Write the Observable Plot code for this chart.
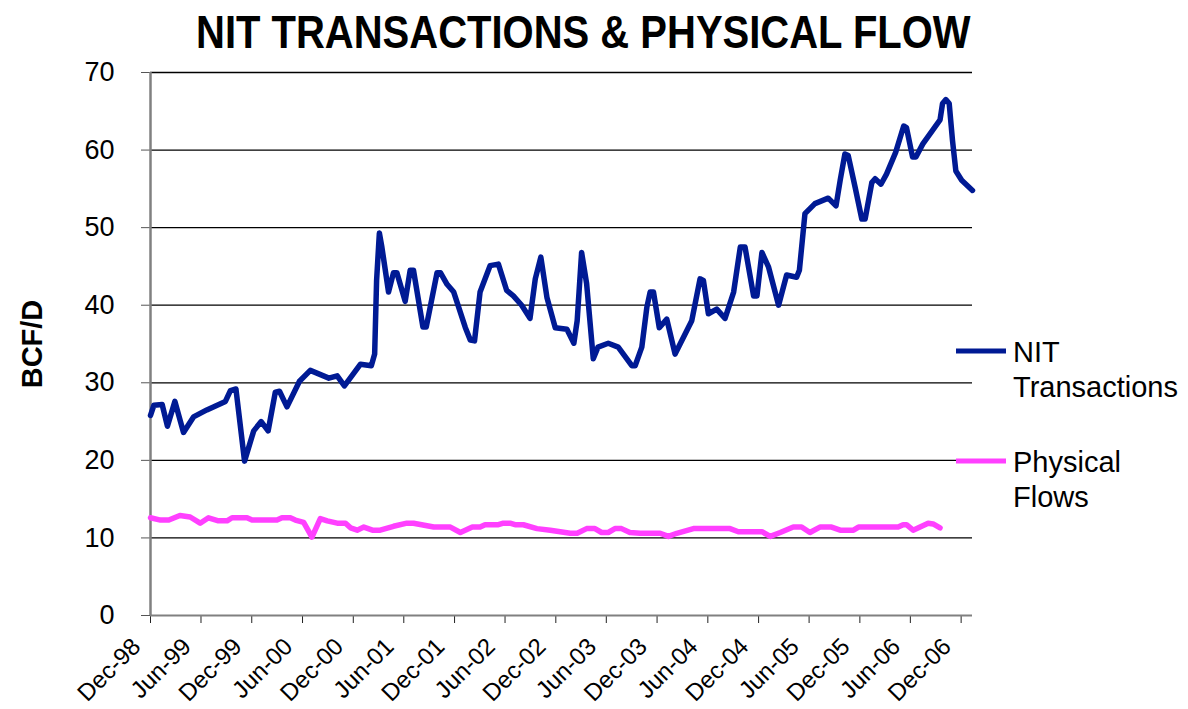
<!DOCTYPE html>
<html>
<head>
<meta charset="utf-8">
<script src="https://cdn.jsdelivr.net/npm/d3@7"></script>
<script src="https://cdn.jsdelivr.net/npm/@observablehq/plot@0.6"></script>
<style>
  html, body { margin: 0; padding: 0; background: #fff; }
  #wrap { position: relative; width: 1188px; height: 709px; overflow: hidden; font-family: "Liberation Sans", Arial, sans-serif; }
  #overlay { position: absolute; left: 0; top: 0; pointer-events: none; }
</style>
</head>
<body>
<div id="wrap">
  <div id="chart"></div>
  <svg id="overlay" width="1188" height="709" font-family="Liberation Sans, Arial, sans-serif">
    <text id="title" transform="translate(196,48) scale(1,1.15)" font-size="40" font-weight="bold" fill="#000">NIT TRANSACTIONS &amp; PHYSICAL FLOW</text>
    <g id="legend"></g>
  </svg>
</div>
<script>
// ---- Data ----
const nitDates = [
  "1998-12-01","1998-12-13","1999-01-12","1999-01-31","1999-02-27","1999-03-30","1999-05-05","1999-06-22",
  "1999-08-28","1999-09-15","1999-10-05","1999-11-05","1999-12-08","2000-01-04","2000-01-29","2000-02-24",
  "2000-03-10","2000-04-06","2000-05-21","2000-06-29","2000-09-04","2000-10-04","2000-10-30","2000-12-27",
  "2001-02-04","2001-02-16","2001-02-23","2001-03-02","2001-03-05","2001-03-14","2001-04-07","2001-04-25",
  "2001-05-07","2001-06-06","2001-06-24","2001-07-06","2001-08-09","2001-08-21","2001-09-29","2001-10-11",
  "2001-11-04","2001-11-28","2002-01-09","2002-01-27","2002-02-11","2002-03-03","2002-04-08","2002-05-08",
  "2002-06-07","2002-07-01","2002-07-31","2002-08-30","2002-09-18","2002-10-08","2002-10-30","2002-11-29",
  "2003-01-10","2003-02-04","2003-02-16","2003-03-04","2003-03-22","2003-04-15","2003-05-02","2003-06-08",
  "2003-07-14","2003-09-01","2003-09-13","2003-10-07","2003-10-25","2003-11-06","2003-11-18","2003-12-09",
  "2004-01-05","2004-02-04","2004-04-04","2004-05-04","2004-05-16","2004-06-03","2004-07-03","2004-08-02",
  "2004-09-02","2004-09-26","2004-10-13","2004-11-13","2004-11-25","2004-12-13","2005-01-06","2005-02-11",
  "2005-03-12","2005-04-17","2005-04-27","2005-05-17","2005-06-22","2005-08-09","2005-09-06","2005-09-21",
  "2005-10-08","2005-10-20","2005-11-14","2005-12-08","2005-12-20","2006-01-13","2006-01-25","2006-02-15",
  "2006-03-07","2006-04-09","2006-05-08","2006-05-18","2006-06-09","2006-06-21","2006-07-16","2006-09-16",
  "2006-09-25","2006-10-07","2006-10-19","2006-10-31","2006-11-12","2006-12-03","2007-01-11"
];
const nitValues = [
  25.8,27.1,27.2,24.4,27.6,23.6,25.6,26.5,
  27.6,29.0,29.2,19.9,23.8,25.0,23.8,28.8,
  28.9,26.9,30.2,31.6,30.6,30.9,29.6,32.4,
  32.2,33.7,43.2,47.5,49.3,47.5,41.7,44.2,
  44.2,40.5,44.5,44.5,37.2,37.2,44.2,44.2,
  42.7,41.7,37.1,35.5,35.4,41.7,45.1,45.3,
  41.9,41.2,40.0,38.3,43.4,46.2,41.0,37.1,
  36.9,35.1,38.0,46.8,42.8,33.1,34.6,35.1,
  34.6,32.2,32.2,34.6,39.7,41.7,41.7,37.1,
  38.2,33.7,38.0,43.4,43.2,38.9,39.5,38.3,
  41.7,47.5,47.5,41.2,41.2,46.8,44.9,40.0,
  43.9,43.6,44.5,51.8,53.1,53.8,52.8,56.1,
  59.5,59.3,55.2,51.1,51.1,55.8,56.3,55.6,
  56.9,59.7,63.1,62.9,59.1,59.1,60.8,63.9,
  66.0,66.5,66.0,61.2,57.3,56.1,54.8
];
const physDates = [
  "1998-12-01","1999-01-06","1999-02-05","1999-03-17","1999-04-23","1999-05-29","1999-06-28","1999-08-03",
  "1999-09-03","1999-09-21","1999-11-14","1999-12-02","2000-03-01","2000-03-19","2000-04-18","2000-05-06",
  "2000-06-05","2000-07-05","2000-08-04","2000-08-29","2000-10-04","2000-11-03","2000-11-21","2000-12-15",
  "2001-01-08","2001-02-08","2001-03-08","2001-04-25","2001-06-12","2001-07-06","2001-09-17","2001-11-16",
  "2001-12-22","2002-02-03","2002-03-03","2002-03-21","2002-05-08","2002-05-26","2002-06-19","2002-07-07",
  "2002-08-06","2002-09-24","2002-11-11","2003-01-22","2003-02-16","2003-03-22","2003-04-21","2003-05-15",
  "2003-06-08","2003-07-02","2003-07-26","2003-08-25","2003-10-01","2003-12-12","2004-01-11","2004-02-10",
  "2004-04-10","2004-08-20","2004-09-19","2004-12-13","2005-01-12","2005-02-17","2005-04-05","2005-05-05",
  "2005-06-04","2005-07-10","2005-08-21","2005-09-21","2005-11-08","2005-11-26","2006-04-18","2006-05-06",
  "2006-05-18","2006-06-11","2006-08-04","2006-08-22","2006-09-16"
];
const physValues = [
  12.6,12.3,12.3,12.9,12.7,11.9,12.6,12.2,
  12.2,12.6,12.6,12.3,12.3,12.6,12.6,12.3,
  12.0,10.1,12.5,12.2,11.9,11.9,11.3,11.0,
  11.4,11.0,11.0,11.5,11.9,11.9,11.4,11.4,
  10.7,11.4,11.4,11.7,11.7,11.9,11.9,11.7,
  11.7,11.2,11.0,10.6,10.6,11.2,11.2,10.7,
  10.7,11.2,11.2,10.7,10.6,10.6,10.2,10.6,
  11.2,11.2,10.8,10.8,10.2,10.7,11.4,11.4,
  10.7,11.4,11.4,11.0,11.0,11.4,11.4,11.7,
  11.7,11.0,11.9,11.8,11.3
];
const xTickDates = [
  "1998-12-01","1999-06-01","1999-12-01","2000-06-01","2000-12-01","2001-06-01","2001-12-01","2002-06-01",
  "2002-12-01","2003-06-01","2003-12-01","2004-06-01","2004-12-01","2005-06-01","2005-12-01","2006-06-01","2006-12-01"
];
const yTicks = [0, 10, 20, 30, 40, 50, 60, 70];
const seriesNames = ["NIT\nTransactions", "Physical\nFlows"];
const seriesColors = ["#001A94", "#FF40FF"];
const xDomain = ["1998-12-01", "2007-01-11"];
const yDomain = [0, 70];

// ---- Tables ----
const nit = nitDates.map((d, i) => ({date: new Date(d), value: nitValues[i]}));
const phys = physDates.map((d, i) => ({date: new Date(d), value: physValues[i]}));
const xTicks = xTickDates.map(d => new Date(d));
const fmt = d3.utcFormat("%b-%y");

const chart = Plot.plot({
  width: 1188,
  height: 709,
  marginLeft: 150,
  marginRight: 216,
  marginTop: 72,
  marginBottom: 94,
  style: {fontFamily: "Liberation Sans, Arial, sans-serif", color: "#000", background: "#fff", overflow: "visible"},
  x: {type: "utc", domain: xDomain.map(d => new Date(d))},
  y: {domain: yDomain},
  marks: [
    Plot.gridY(yTicks.filter(d => d > 0), {stroke: "#000", strokeOpacity: 1, strokeWidth: 1.3}),
    Plot.axisY(yTicks, {tickSize: 9, tickPadding: 27, fontSize: 27, label: null, stroke: "#555"}),
    // tick marks only
    Plot.axisX(xTicks, {tickSize: 8, tickFormat: () => "", label: null, stroke: "#222"}),
    // rotated tick labels, shifted so their ends sit below-left of the ticks
    Plot.axisX(xTicks, {tickSize: 0, tickPadding: 0, tickRotate: -45, fontSize: 24, tickFormat: fmt, label: null, dx: -14, dy: 27}),
    Plot.ruleX([xTicks[0]], {stroke: "#808080", strokeWidth: 2.5}),
    Plot.ruleY([0], {stroke: "#808080", strokeWidth: 2}),
    Plot.line(phys, {x: "date", y: "value", stroke: seriesColors[1], strokeWidth: 5.5}),
    Plot.line(nit, {x: "date", y: "value", stroke: seriesColors[0], strokeWidth: 5.5}),
    Plot.text(["BCF/D"], {frameAnchor: "left", dx: -118, rotate: -90, fontSize: 29, fontWeight: "bold", textAnchor: "middle", fill: "#000"})
  ]
});
document.getElementById("chart").appendChild(chart);

// ---- Legend ----
const legend = d3.select("#legend");
const legendRows = [{y: 351}, {y: 461}];
seriesNames.forEach((name, i) => {
  const g = legend.append("g").attr("transform", `translate(956,${legendRows[i].y})`);
  g.append("line").attr("x1", 0).attr("x2", 50).attr("y1", 0).attr("y2", 0)
    .attr("stroke", seriesColors[i]).attr("stroke-width", 5);
  const t = g.append("text").attr("x", 57).attr("font-size", 29).attr("fill", "#000");
  name.split("\n").forEach((line, j) => {
    t.append("tspan").attr("x", 57).attr("y", 11 + j * 35).text(line);
  });
});
</script>
</body>
</html>
